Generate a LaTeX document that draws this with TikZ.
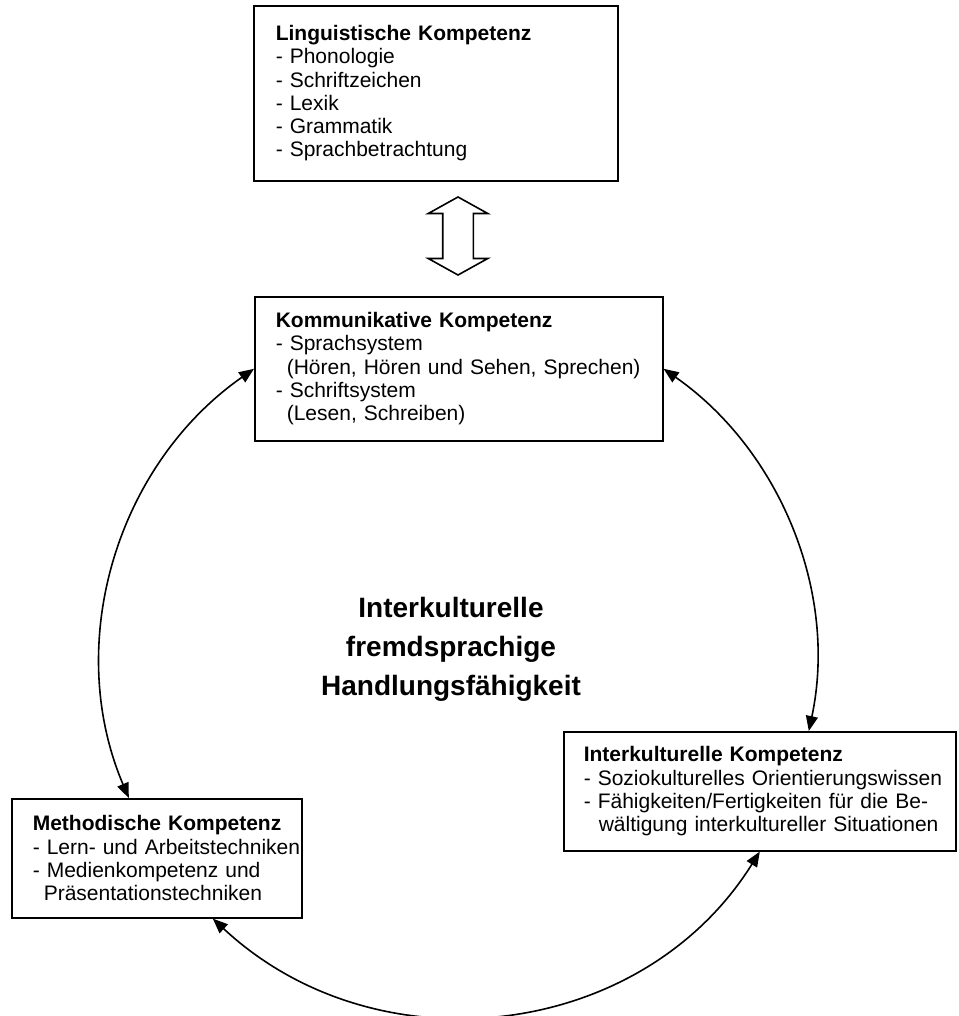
\documentclass[tikz,border=0pt]{standalone}
\usepackage{fontspec}
\setmainfont{Liberation Sans}
\usetikzlibrary{arrows.meta,shapes.arrows}

\begin{document}
\begin{tikzpicture}[x=1pt,y=1pt]
   \tikzstyle{every node}=[inner sep=0pt]
   \tikzstyle{box}=[draw, line width=1.6pt, anchor=north west, align=left, font=\fontsize{21}{23.3}\selectfont]
   \tikzstyle{link}=[line width=1.6pt, {Triangle[length=15pt,width=12pt]}-{Triangle[length=15pt,width=12pt]}]

\useasboundingbox (0,0) rectangle (958,-1016);

\node[box, inner xsep=22pt, text width=320pt, minimum height=175pt] (ling) at (253,-5)
    {\textbf{Linguistische Kompetenz}\\- Phonologie\\- Schriftzeichen\\- Lexik\\- Grammatik\\- Sprachbetrachtung};
\node[box, inner xsep=21pt, text width=366pt, minimum height=144pt] (komm) at (254,-296)
    {\textbf{Kommunikative Kompetenz}\\- Sprachsystem\\\hspace*{11pt}(Hören, Hören und Sehen, Sprechen)\\- Schriftsystem\\\hspace*{11pt}(Lesen, Schreiben)};
\node[box, inner xsep=20pt, text width=352pt, minimum height=119pt] (inter) at (563,-731)
    {\textbf{Interkulturelle Kompetenz}\\\mbox{- Soziokulturelles Orientierungswissen}\\\mbox{- Fähigkeiten/Fertigkeiten für die Be-}\\\mbox{\hspace*{15pt}wältigung interkultureller Situationen}};
\node[box, inner xsep=21pt, text width=248pt, minimum height=119pt] (meth) at (11,-798)
    {\mbox{\textbf{Methodische Kompetenz}}\\\mbox{- Lern- und Arbeitstechniken}\\- Medienkompetenz und\\\hspace*{11pt}Präsentationstechniken};

\node[font=\fontsize{28}{39}\selectfont\bfseries, align=center] (mitte) at (451,-649)
    {Interkulturelle\\fremdsprachige\\Handlungsfähigkeit};

% hollow double arrow between the upper boxes
\node[draw, line width=1.6pt, double arrow, rotate=90, inner xsep=0pt, inner ysep=14.5pt,
      minimum height=78pt, minimum width=58pt, double arrow head extend=14.5pt,
      double arrow tip angle=122] (pfeil) at (458,-236) {};

% circle of competences
\draw[link] (komm.east) to[out=-35, in=78, looseness=0.93] ([xshift=49pt]inter.north);
\draw[link] (inter.south) to[out=-122, in=-43, looseness=1.04] ([xshift=56pt]meth.south);
\draw[link] ([xshift=-28pt]meth.north) to[out=113, in=215, looseness=0.96] (komm.west);

\end{tikzpicture}
\end{document}
